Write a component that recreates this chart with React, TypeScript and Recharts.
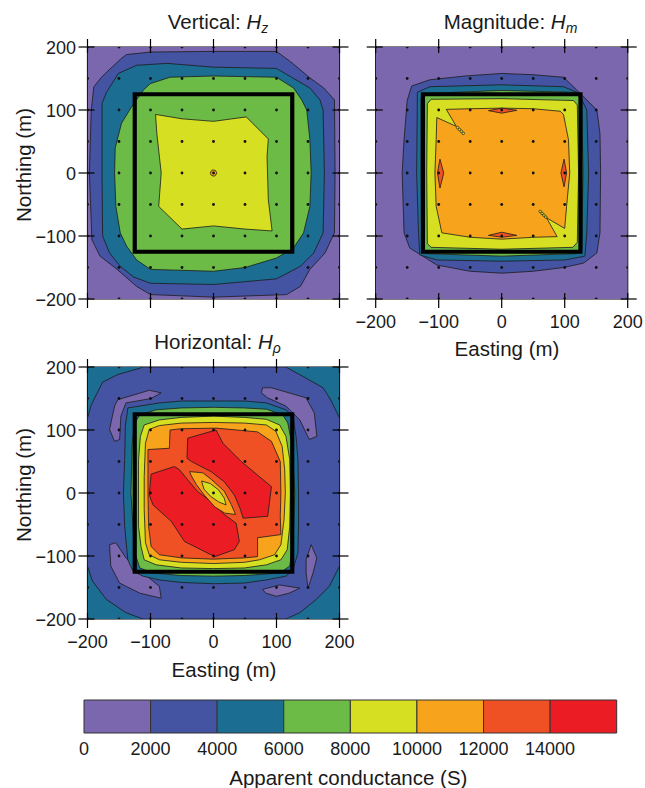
import React from 'react';
import { ScatterChart, Scatter, XAxis, YAxis, BarChart, Bar } from 'recharts';

type Pt = [number, number];

// colour classes, 2000 S wide each
const C = {
  purple: '#7b67ad',
  blue: '#4453a2',
  teal: '#1b6d91',
  green: '#6cbb46',
  yellow: '#d7df23',
  orange: '#f7a41c',
  redorange: '#ef5024',
  red: '#ec1c24',
};

const AXIS_TICKS = [-200, -100, 0, 100, 200];
const STATIONS = [-200, -150, -100, -50, 0, 50, 100, 150, 200];
const FRAME: Pt[] = [[-200, -200], [-200, 200], [200, 200], [200, -200]];
const LOOP: Pt[] = [[-125, -125], [-125, 125], [125, 125], [125, -125]];

// ---- Vertical Hz contours (m) ----
const HZ_2000: Pt[] = [[-190, 137], [-176, 154], [-160, 169], [-146, 182], [-138, 188], [-100, 192], [0, 193], [100, 193], [122, 177], [153, 151], [175, 135], [192, 116], [193, 0], [192, -95], [177, -127], [153, -153], [138, -180], [116, -193], [0, -197], [-100, -193], [-122, -180], [-153, -153], [-180, -132], [-193, -106], [-197, 0], [-194, 100]];
const HZ_4000: Pt[] = [[-177, 110], [-170, 128], [-161, 142], [-151, 158], [-122, 171], [-74, 174], [0, 168], [100, 166], [122, 153], [153, 135], [169, 116], [174, 100], [176, 0], [174, -95], [159, -127], [138, -148], [100, -168], [0, -177], [-100, -175], [-127, -165], [-148, -148], [-165, -127], [-176, -100], [-177, 0]];
const HZ_6000: Pt[] = [[-157, 0], [-156, 40], [-146, 79], [-130, 105], [-111, 132], [-100, 142], [-69, 152], [0, 154], [100, 152], [127, 135], [140, 116], [148, 100], [153, 53], [155, 0], [153, -53], [143, -95], [127, -119], [100, -135], [50, -150], [0, -156], [-100, -153], [-122, -138], [-138, -116], [-148, -95], [-155, -53]];
const HZ_8000: Pt[] = [[-92, 93], [-50, 86], [0, 82], [52, 89], [87, 54], [85, 26], [87, -42], [93, -92], [50, -89], [0, -84], [-50, -89], [-87, -53], [-83, 0], [-90, 63]];
const HZ_10000: Pt[] = [[5, 1], [3, 4], [-1, 5], [-4, 3], [-5, -1], [-3, -4], [1, -5], [4, -3]];

// ---- Magnitude Hm contours ----
const HM_2000: Pt[] = [[-150, 115], [-143, 138], [-114, 148], [-58, 154], [0, 158], [50, 156], [98, 152], [119, 132], [151, 100], [156, 63], [157, 0], [156, -95], [151, -127], [130, -143], [98, -150], [50, -156], [0, -159], [-50, -156], [-103, -146], [-146, -119], [-155, -95], [-158, 0], [-155, 53]];
const HM_4000: Pt[] = [[-134, 100], [-134, 128], [-114, 137], [0, 140], [98, 137], [122, 127], [135, 100], [138, 0], [135, -95], [132, -132], [100, -138], [0, -140], [-103, -138], [-130, -130], [-132, -95], [-135, 0]];
const HM_6000: Pt[] = [[-128, 118], [-126, 126], [0, 131], [118, 128], [127, 118], [129, 0], [127, -120], [118, -128], [0, -132], [-120, -128], [-127, -120], [-128, 0]];
const HM_8000: Pt[] = [[-118, 110], [-112, 117], [0, 118], [114, 115], [120, 108], [122, 0], [120, -110], [113, -118], [0, -121], [-112, -118], [-118, -112], [-119, 0]];
const HM_10000: Pt[] = [[-106, 0], [-104, 53], [-103, 88], [-72, 74], [-88, 101], [-50, 102], [0, 103], [50, 102], [93, 98], [98, 93], [106, 53], [108, 0], [103, -53], [100, -88], [71, -71], [88, -101], [50, -102], [0, -105], [-50, -102], [-95, -95], [-104, -53]];
const HM_12000_N: Pt[] = [[-21, 99], [0, 103], [24, 99.5], [0, 95]];
const HM_12000_S: Pt[] = [[-21, -99], [0, -94], [24, -99], [0, -102]];
const HM_12000_W: Pt[] = [[-98, 22], [-92, 0], [-98, -24], [-102, 0]];
const HM_12000_E: Pt[] = [[99, 22], [103, 0], [99, -22], [94, 0]];
// tiny closed contours trailing off the two yellow spikes
const HM_TRAIL: Pt[] = [[-70, 72], [-67, 69], [-64, 66], [-61, 63], [70, -70], [67, -67], [64, -64], [61, -61]];

// ---- Horizontal Hrho contours ----
const HP_4000_OUT: Pt[] = [[-200, 119], [-194, 140], [-176, 176], [-152, 188], [-117, 198], [-112, 200], [115, 200], [142, 185], [174, 167], [187, 146], [200, 119], [200, -116], [184, -148], [163, -169], [137, -190], [115, -200], [-112, -200], [-139, -190], [-170, -169], [-192, -140], [-200, -116]];
const HP_2000_NW: Pt[] = [[-152, 148], [-102, 163], [-83, 159], [-99, 150], [-139, 143], [-147, 122], [-149, 85], [-157, 82], [-165, 101], [-157, 138]];
const HP_2000_NE: Pt[] = [[76, 159], [78, 167], [92, 167], [147, 151], [160, 127], [164, 90], [152, 85], [137, 116], [115, 138], [86, 151]];
const HP_2000_SW: Pt[] = [[-165, -82], [-155, -79], [-139, -103], [-112, -127], [-86, -148], [-83, -167], [-117, -159], [-149, -143], [-163, -116]];
const HP_2000_SE1: Pt[] = [[155, -82], [164, -103], [158, -127], [150, -151], [147, -127], [147, -106]];
const HP_2000_SE2: Pt[] = [[78, -153], [105, -146], [137, -151], [120, -159], [100, -164], [83, -159]];
const HP_4000_IN: Pt[] = [[-136, 135], [-86, 143], [-51, 146], [0, 146], [49, 146], [84, 143], [115, 132], [126, 122], [131, 90], [134, 53], [135, 0], [135, -53], [134, -95], [126, -122], [115, -132], [84, -138], [49, -143], [0, -144], [-51, -142], [-86, -138], [-112, -132], [-128, -124], [-136, -106], [-141, -53], [-143, 0], [-141, 53], [-140, 106], [-137, 127]];
const HP_6000: Pt[] = [[-117, 124], [-91, 132], [-51, 135], [0, 136], [49, 135], [84, 133], [110, 124], [118, 111], [125, 74], [129, 0], [126, -85], [121, -116], [105, -127], [49, -131], [0, -132], [-51, -131], [-96, -127], [-117, -119], [-125, -95], [-131, 0], [-129, 79], [-125, 111]];
const HP_8000: Pt[] = [[-110, 108], [-86, 116], [-51, 120], [0, 122], [49, 120], [84, 117], [105, 108], [115, 90], [121, 53], [122, 0], [121, -53], [117, -90], [107, -106], [84, -114], [49, -119], [0, -120], [-51, -119], [-91, -114], [-110, -106], [-115, -85], [-119, -53], [-119, 0], [-119, 53], [-116, 90]];
const HP_10000: Pt[] = [[-102, 101], [-86, 107], [-51, 111], [0, 112], [49, 111], [84, 108], [99, 98], [109, 74], [113, 37], [114, 0], [112, -42], [107, -82], [97, -98], [73, -106], [49, -110], [0, -112], [-51, -110], [-86, -106], [-102, -98], [-108, -79], [-110, -26], [-110, 26], [-108, 79]];
const HP_12000: Pt[] = [[-104, 69], [-70, 71], [-69, 100], [-51, 102], [4, 103], [70, 97], [92, 82], [106, 50], [107, 0], [106, -37], [107, -66], [70, -71], [70, -101], [49, -103], [0, -105], [-51, -103], [-86, -98], [-99, -85], [-103, -53], [-104, 0], [-104, 42]];
const HP_14000_NE: Pt[] = [[-41, 87], [4, 100], [15, 79], [44, 50], [92, 10], [86, -37], [47, -40], [42, -24], [33, -3], [17, 18], [-4, 34], [-35, 50], [-42, 55]];
const HP_14000_SW: Pt[] = [[-99, 30], [-62, 42], [-54, 37], [-41, 21], [-25, 2], [-4, -13], [17, -34], [36, -48], [41, -77], [33, -90], [2, -101], [-46, -77], [-67, -45], [-96, -19], [-102, -3]];
const HP_12000_C: Pt[] = [[-38, 34], [-17, 32], [-4, 22], [17, 3], [28, -18], [35, -34], [18, -32], [2, -22], [-14, -4], [-27, 13], [-35, 27]];
const HP_10000_C: Pt[] = [[-19, 19], [-5, 15], [8, 5], [17, -8], [20, -19], [8, -14], [-5, -5], [-15, 6]];

// ---- colour scale ----
const CB_LEVELS = [0, 2000, 4000, 6000, 8000, 10000, 12000, 14000, 16000];
const CB_TICKS = [0, 2000, 4000, 6000, 8000, 10000, 12000, 14000];
const CB_COLORS = [C.purple, C.blue, C.teal, C.green, C.yellow, C.orange, C.redorange, C.red];

type Layer = { pts: Pt[]; fill: string; edge?: boolean };

const HZ_LAYERS: Layer[] = [
  { pts: FRAME, fill: C.purple, edge: false },
  { pts: HZ_2000, fill: C.blue },
  { pts: HZ_4000, fill: C.teal },
  { pts: HZ_6000, fill: C.green },
  { pts: HZ_8000, fill: C.yellow },
  { pts: HZ_10000, fill: C.orange },
];

const HM_LAYERS: Layer[] = [
  { pts: FRAME, fill: C.purple, edge: false },
  { pts: HM_2000, fill: C.blue },
  { pts: HM_4000, fill: C.teal },
  { pts: HM_6000, fill: C.green },
  { pts: HM_8000, fill: C.yellow },
  { pts: HM_10000, fill: C.orange },
  { pts: HM_12000_N, fill: C.redorange },
  { pts: HM_12000_S, fill: C.redorange },
  { pts: HM_12000_W, fill: C.redorange },
  { pts: HM_12000_E, fill: C.redorange },
];

const HP_LAYERS: Layer[] = [
  { pts: FRAME, fill: C.teal, edge: false },
  { pts: HP_4000_OUT, fill: C.blue },
  { pts: HP_2000_NW, fill: C.purple },
  { pts: HP_2000_NE, fill: C.purple },
  { pts: HP_2000_SW, fill: C.purple },
  { pts: HP_2000_SE1, fill: C.purple },
  { pts: HP_2000_SE2, fill: C.purple },
  { pts: HP_4000_IN, fill: C.teal },
  { pts: HP_6000, fill: C.green },
  { pts: HP_8000, fill: C.yellow },
  { pts: HP_10000, fill: C.orange },
  { pts: HP_12000, fill: C.redorange },
  { pts: HP_14000_NE, fill: C.red },
  { pts: HP_14000_SW, fill: C.red },
  { pts: HP_12000_C, fill: C.orange },
  { pts: HP_10000_C, fill: C.yellow },
];

const FONT = '"Liberation Sans", Arial, Helvetica, sans-serif';

const closed = (pts: Pt[]) => [...pts, pts[0]].map(([x, y]) => ({ x, y }));
const asPts = (pts: Pt[]) => pts.map(([x, y]) => ({ x, y }));

const stationPts = STATIONS.flatMap((x) => STATIONS.map((y) => ({ x, y })));

const Nothing = () => <g />;
const StationDot = (p: any) => <circle cx={p.cx} cy={p.cy} r={1.4} fill="#111" />;
const TrailRing = (p: any) => <circle cx={p.cx} cy={p.cy} r={1.3} fill={C.yellow} stroke="#222" strokeWidth={0.7} />;

const polyLine = (fill: string, stroke: string, sw: number) => (p: any) => {
  const pts = (p.points || []) as { x: number; y: number }[];
  const d = pts.map((q, i) => `${i ? 'L' : 'M'}${q.x},${q.y}`).join('') + 'Z';
  return <path d={d} fill={fill} stroke={stroke} strokeWidth={sw} strokeLinejoin="miter" />;
};

const fmt = (v: number) => (v < 0 ? `\u2212${-v}` : `${v}`);

const tickFor = (side: 'top' | 'bottom' | 'left' | 'right', show: boolean) => (p: any) => {
  const { x, y, payload } = p;
  const v = Number(payload.value);
  let ln: React.ReactNode = null;
  let tx: React.ReactNode = null;
  if (side === 'bottom') {
    ln = <line x1={x} x2={x} y1={y - 6} y2={y + 9} />;
    if (show) tx = <text x={x} y={y + 29} textAnchor="middle">{fmt(v)}</text>;
  } else if (side === 'top') {
    ln = <line x1={x} x2={x} y1={y - 8} y2={y + 6} />;
  } else if (side === 'left') {
    ln = <line x1={x - 9} x2={x + 7} y1={y} y2={y} />;
    if (show) tx = <text x={x - 11.5} y={y + 6.5} textAnchor="end">{fmt(v)}</text>;
  } else {
    ln = <line x1={x - 7} x2={x + 9} y1={y} y2={y} />;
  }
  return (
    <g>
      <g stroke="#000" strokeWidth={1.2}>{ln}</g>
      <g fill="#1a1a1a" stroke="none" fontSize={18} fontFamily={FONT}>{tx}</g>
    </g>
  );
};

const AXIS_LINE = { stroke: '#000', strokeWidth: 1.2 };

type Box = { top: number; right: number; bottom: number; left: number };

type PanelProps = {
  layers: Layer[];
  width: number;
  height: number;
  plot: Box; // distance of the plot frame from the chart edges
  xLabels: boolean;
  yLabels: boolean;
  trail?: Pt[];
};

// axes are 1px thick boxes, so the margin is the plot inset minus one
function ContourPanel({ layers, width, height, plot, xLabels, yLabels, trail }: PanelProps) {
  const common = {
    type: 'number' as const,
    domain: [-200, 200],
    ticks: AXIS_TICKS,
    interval: 0 as const,
    tickSize: 0,
    tickMargin: 0,
    tickLine: false,
    axisLine: AXIS_LINE,
    allowDataOverflow: true,
  };
  const margin = { top: plot.top - 1, right: plot.right - 1, bottom: plot.bottom - 1, left: plot.left - 1 };
  return (
    <ScatterChart width={width} height={height} margin={margin}>
      <XAxis xAxisId="b" dataKey="x" height={1} {...common} tick={tickFor('bottom', xLabels)} />
      <XAxis xAxisId="t" dataKey="x" orientation="top" height={1} {...common} tick={tickFor('top', false)} />
      <YAxis yAxisId="l" dataKey="y" width={1} {...common} tick={tickFor('left', yLabels)} />
      <YAxis yAxisId="r" dataKey="y" orientation="right" width={1} {...common} tick={tickFor('right', false)} />
      {layers.map((l, i) => (
        <Scatter
          key={i}
          xAxisId="b"
          yAxisId="l"
          data={closed(l.pts)}
          shape={Nothing}
          line={polyLine(l.fill, l.edge === false ? 'none' : '#1c1c1c', 0.8)}
          isAnimationActive={false}
        />
      ))}
      {trail && <Scatter xAxisId="b" yAxisId="l" data={asPts(trail)} shape={TrailRing} isAnimationActive={false} />}
      <Scatter xAxisId="t" yAxisId="r" data={stationPts} shape={StationDot} isAnimationActive={false} />
      <Scatter xAxisId="b" yAxisId="l" data={closed(LOOP)} shape={Nothing} line={polyLine('none', '#000', 4.2)} isAnimationActive={false} />
    </ScatterChart>
  );
}

const cbRow = [
  CB_COLORS.reduce((row: any, _c, i) => {
    row[`s${i}`] = CB_LEVELS[i + 1] - CB_LEVELS[i];
    return row;
  }, { name: 'scale' }),
];

const cbTick = (p: any) => (
  <text x={p.x} y={p.y + 22} textAnchor="middle" fontSize={18} fill="#1a1a1a" fontFamily={FONT}>
    {p.payload.value}
  </text>
);

export default function App() {
  return (
    <div style={{ position: 'absolute', left: 0, top: 0, width: 645, height: 788, background: '#fff', fontFamily: FONT }}>
      <div style={{ position: 'absolute', left: 0, top: 0 }}>
        <ContourPanel layers={HZ_LAYERS} width={350} height={320} plot={{ top: 47, left: 87.5, right: 10.5, bottom: 21 }} xLabels={false} yLabels />
      </div>
      <div style={{ position: 'absolute', left: 330, top: 0 }}>
        <ContourPanel layers={HM_LAYERS} trail={HM_TRAIL} width={315} height={365} plot={{ top: 47, left: 45.7, right: 17.3, bottom: 66 }} xLabels yLabels={false} />
      </div>
      <div style={{ position: 'absolute', left: 0, top: 320 }}>
        <ContourPanel layers={HP_LAYERS} width={375} height={370} plot={{ top: 47, left: 87.5, right: 35.5, bottom: 71 }} xLabels yLabels />
      </div>
      <div style={{ position: 'absolute', left: 0, top: 690 }}>
        <BarChart width={645} height={98} data={cbRow} layout="vertical" barCategoryGap={0} margin={{ top: 10, left: 84, right: 28.3, bottom: 53.7 }}>
          <XAxis type="number" domain={[0, 16000]} ticks={CB_TICKS} interval={0} height={1} tickSize={0} tickMargin={0} tickLine={false} axisLine={false} tick={cbTick} />
          <YAxis type="category" dataKey="name" hide />
          {CB_COLORS.map((c, i) => (
            <Bar key={i} dataKey={`s${i}`} stackId="cb" fill={c} stroke="#333" strokeWidth={1} isAnimationActive={false} />
          ))}
        </BarChart>
      </div>
      <svg width={645} height={788} style={{ position: 'absolute', left: 0, top: 0, pointerEvents: 'none' }} fontFamily={FONT} fill="#1a1a1a">
        <text x={218} y={28.5} textAnchor="middle" fontSize={20.5}>
          Vertical: <tspan fontStyle="italic">H</tspan>
          <tspan fontStyle="italic" fontSize={14} dy={4}>z</tspan>
        </text>
        <text x={510.5} y={28.5} textAnchor="middle" fontSize={20.5}>
          Magnitude: <tspan fontStyle="italic">H</tspan>
          <tspan fontStyle="italic" fontSize={14} dy={4}>m</tspan>
        </text>
        <text x={217.5} y={348.5} textAnchor="middle" fontSize={20.5}>
          Horizontal: <tspan fontStyle="italic">H</tspan>
          <tspan fontStyle="italic" fontSize={14} dy={4}>ρ</tspan>
        </text>
        <text transform="translate(30.5,165) rotate(-90)" textAnchor="middle" fontSize={20.5}>Northing (m)</text>
        <text transform="translate(30.5,485) rotate(-90)" textAnchor="middle" fontSize={20.5}>Northing (m)</text>
        <text x={507} y={356} textAnchor="middle" fontSize={20.5}>Easting (m)</text>
        <text x={224} y={676.5} textAnchor="middle" fontSize={20.5}>Easting (m)</text>
        <text x={348.3} y={784.5} textAnchor="middle" fontSize={20.5}>Apparent conductance (S)</text>
      </svg>
    </div>
  );
}
